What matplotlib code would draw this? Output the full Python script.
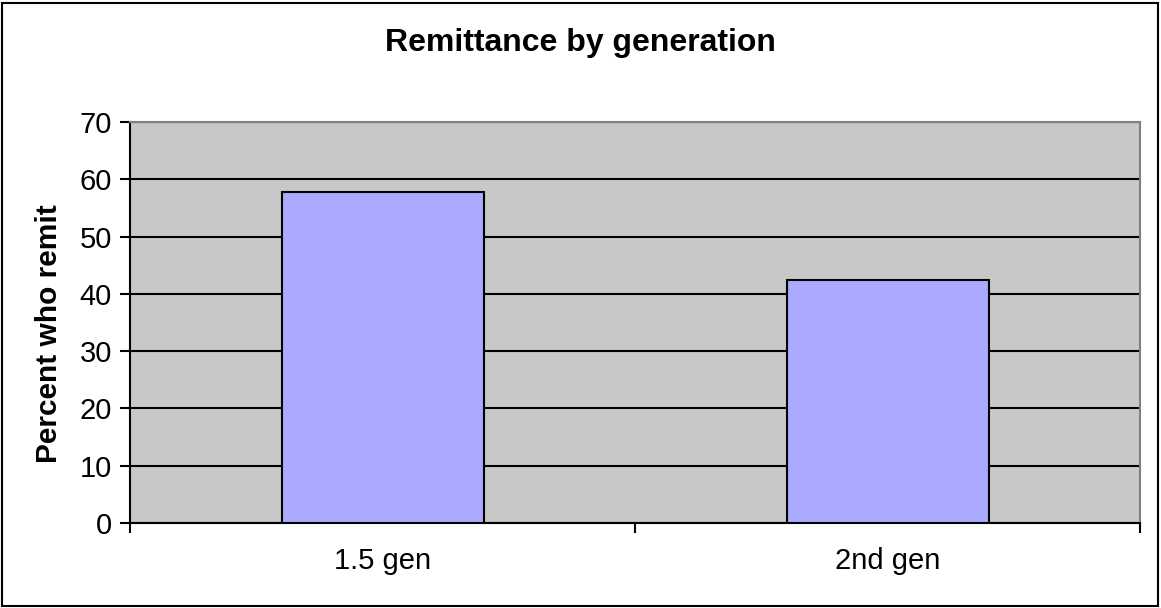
import matplotlib
matplotlib.use("Agg")
import matplotlib.pyplot as plt
from matplotlib.patches import Rectangle

categories = ["1.5 gen", "2nd gen"]
values = [57.8, 42.4]
yticks = [0, 10, 20, 30, 40, 50, 60, 70]

plt.rcParams['font.family'] = ['Liberation Sans', 'DejaVu Sans']

W, H = 1161, 608
fig = plt.figure(figsize=(W / 100, H / 100), dpi=100)
ax = fig.add_axes([130 / W, 1 - 523 / H, (1140 - 130) / W, (523 - 122) / H])
ax.set_facecolor('#C8C8C8')

x = list(range(len(categories)))
ax.bar(x, values, width=0.4, color='#AAAAFF', edgecolor='black', linewidth=1.5, zorder=3)
ax.set_xlim(-0.5, len(categories) - 0.5)
ax.set_ylim(0, 70)
ax.set_yticks(yticks)
ax.yaxis.grid(True, color='black', linewidth=1.5, zorder=1)
ax.set_axisbelow(True)
ax.set_xticks([-0.5, 0.5, 1.5])
ax.set_xticklabels([])
ax.set_xticks(x, minor=True)
ax.set_xticklabels(categories, minor=True, fontsize=21)
ax.tick_params(axis='x', which='minor', length=0, pad=17)
ax.tick_params(axis='x', which='major', length=7, width=1.5, direction='out')
ax.tick_params(axis='y', length=7, width=1.5, direction='out', labelsize=21, pad=6)

for side in ['top', 'right']:
    ax.spines[side].set_color('#808080')
    ax.spines[side].set_linewidth(1.5)
for side in ['left', 'bottom']:
    ax.spines[side].set_color('black')
    ax.spines[side].set_linewidth(1.5)

ax.set_ylabel('Percent who remit', fontsize=21.5, fontweight='bold')
ax.yaxis.set_label_coords(-67 / 1010, 0.473)
fig.text(0.5, 1 - 43 / H, 'Remittance by generation', ha='center', va='center',
         fontsize=23, fontweight='bold')

fig.patches.append(Rectangle((2 / W, 2 / H), (W - 5) / W, (H - 5) / H,
                             transform=fig.transFigure, fill=False,
                             edgecolor='black', linewidth=1.5))

fig.savefig('out.png', dpi=100)
